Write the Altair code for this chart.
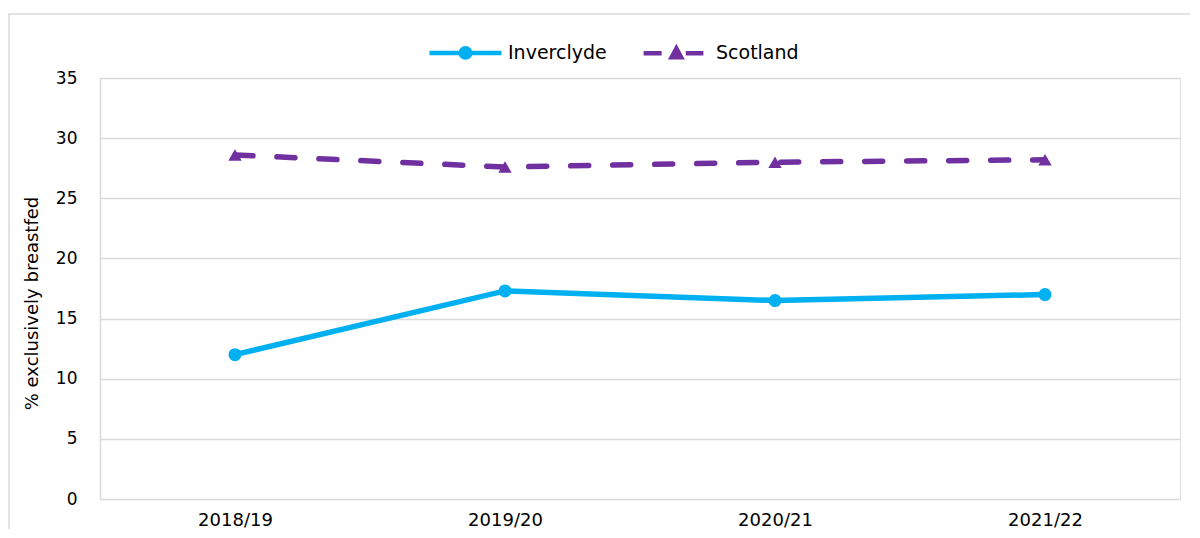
import altair as alt
import pandas as pd

years = ["2018/19", "2019/20", "2020/21", "2021/22"]
inverclyde = [12.0, 17.3, 16.5, 17.0]
scotland = [28.6, 27.6, 28.0, 28.2]
series = ["Inverclyde", "Scotland"]
colors = ["#00B0F0", "#7030A0"]

rows = []
for y, v in zip(years, inverclyde):
    rows.append({"year": y, "value": v, "series": "Inverclyde"})
for y, v in zip(years, scotland):
    rows.append({"year": y, "value": v, "series": "Scotland"})
df = pd.DataFrame(rows)

FONT = "DejaVu Sans"

x_enc = alt.X("year:N", sort=years, title=None,
              scale=alt.Scale(type="point", padding=0.5),
              axis=alt.Axis(labelAngle=0, labelFontSize=18, labelColor="#000000",
                            labelFont=FONT, ticks=False, domain=False, grid=False,
                            labelPadding=12))
y_enc = alt.Y("value:Q", title="% exclusively breastfed",
              scale=alt.Scale(domain=[0, 35], nice=False),
              axis=alt.Axis(values=[0, 5, 10, 15, 20, 25, 30, 35], labelFontSize=17,
                            labelColor="#000000", labelFont=FONT, titleFont=FONT,
                            titleFontSize=18, titleFontWeight="normal", titleColor="#000000",
                            ticks=False, domain=True, domainColor="#d9d9d9", domainWidth=1.5,
                            grid=True, gridColor="#d9d9d9", gridWidth=1.5,
                            labelPadding=23, titlePadding=14, titleY=225))

# legend glyphs: line + marker (stroke only, nested so they look solid)
inv_path = ("M-1,0 H1 "
            "M-0.13,0 A0.13,0.13 0 1,1 0.13,0 A0.13,0.13 0 1,1 -0.13,0 Z "
            "M-0.04,0 A0.04,0.04 0 1,1 0.04,0 A0.04,0.04 0 1,1 -0.04,0 Z")
sco_path = ("M-0.83,0 H-0.33 M0.34,0 H0.83 "
            "M-0.05,0.11 L0.21,0.11 L0.08,-0.13 Z "
            "M0.04,0.05 L0.12,0.05 L0.08,-0.02 Z")

base = alt.Chart(df)

border = alt.Chart(pd.DataFrame({"a": [0]})).mark_rect(
    fill=None, stroke="#d9d9d9", strokeWidth=1.5
).encode(x=alt.value(-91), x2=alt.value(1115), y=alt.value(-64), y2=alt.value(480))

inv_line = base.transform_filter(alt.datum.series == "Inverclyde").mark_line(
    strokeWidth=5.5, strokeCap="round", color=colors[0]).encode(x=x_enc, y=y_enc)
sco_line = base.transform_filter(alt.datum.series == "Scotland").mark_line(
    strokeWidth=5.5, strokeCap="round", color=colors[1], strokeDash=[18, 24]).encode(x=x_enc, y=y_enc)
inv_pts = base.transform_filter(alt.datum.series == "Inverclyde").mark_point(
    shape="circle", filled=True, opacity=1, size=170, color=colors[0]).encode(x=x_enc, y=y_enc)
sco_pts = base.transform_filter(alt.datum.series == "Scotland").mark_point(
    shape="triangle-up", filled=True, opacity=1, size=180, color=colors[1]).encode(x=x_enc, y=y_enc)

leg = dict(title=None, orient="none", legendX=327, legendY=-64,
           direction="horizontal", labelFont=FONT, labelFontSize=19,
           labelColor="#000000", labelOffset=4, columnPadding=27,
           padding=0, symbolSize=5184, symbolStrokeWidth=4.5, symbolOpacity=1)

legend_layer = base.transform_filter("false").mark_point(
    filled=False, opacity=1, strokeWidth=4.5, strokeCap="round").encode(
    x=x_enc, y=y_enc,
    color=alt.Color("series:N", scale=alt.Scale(domain=series, range=colors),
                    legend=alt.Legend(**leg)),
    shape=alt.Shape("series:N", scale=alt.Scale(domain=series, range=[inv_path, sco_path]),
                    legend=alt.Legend(**leg)),
)

chart = alt.layer(border, inv_line, sco_line, inv_pts, sco_pts, legend_layer).properties(
    width=1080, height=421,
    autosize=alt.AutoSizeParams(type="none"),
    padding={"left": 92, "top": 70, "right": 10, "bottom": 30},
).configure_view(stroke=None).configure(background="white")

chart.save("out.html", embed_options={"renderer": "svg", "actions": False})
